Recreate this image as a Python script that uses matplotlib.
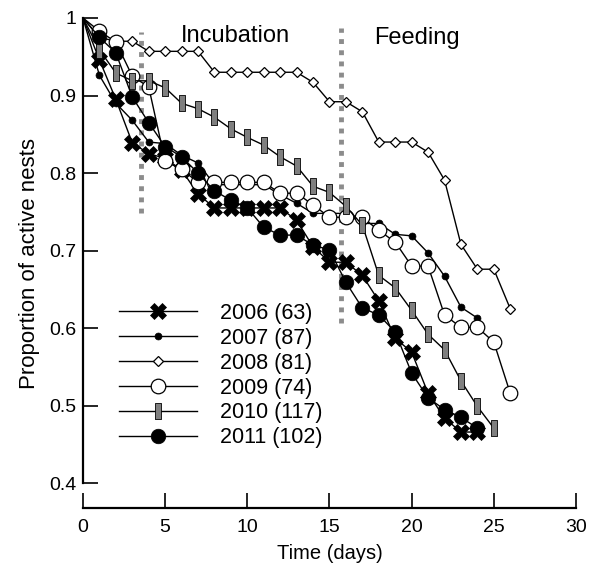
import matplotlib
matplotlib.use("Agg")
import matplotlib.pyplot as plt

plt.rcParams['font.family'] = ['Liberation Sans', 'DejaVu Sans']

# days
days = list(range(0, 27))

# proportion of active nests per year
y2006 = [1.0, 0.946, 0.895, 0.839, 0.825, 0.819, 0.804, 0.773, 0.755, 0.755,
         0.755, 0.755, 0.755, 0.739, 0.705, 0.685, 0.685, 0.668, 0.635, 0.587,
         0.569, 0.516, 0.484, 0.466, 0.466]
y2007 = [1.0, 0.926, 0.890, 0.868, 0.840, 0.838, 0.823, 0.813, 0.785, 0.785,
         0.785, 0.785, 0.772, 0.761, 0.748, 0.748, 0.748, 0.735, 0.735, 0.721,
         0.719, 0.697, 0.667, 0.627, 0.613]
y2008 = [1.0, 0.975, 0.970, 0.970, 0.957, 0.957, 0.957, 0.957, 0.930, 0.930,
         0.930, 0.930, 0.930, 0.930, 0.917, 0.892, 0.892, 0.879, 0.840, 0.840,
         0.840, 0.827, 0.791, 0.708, 0.676, 0.676, 0.625]
y2009 = [1.0, 0.983, 0.969, 0.925, 0.911, 0.815, 0.805, 0.788, 0.788, 0.788,
         0.788, 0.788, 0.774, 0.774, 0.759, 0.743, 0.743, 0.743, 0.726, 0.711,
         0.680, 0.680, 0.617, 0.601, 0.601, 0.582, 0.516]
y2010 = [1.0, 0.959, 0.929, 0.919, 0.919, 0.910, 0.890, 0.883, 0.872, 0.857,
         0.846, 0.836, 0.821, 0.809, 0.783, 0.775, 0.757, 0.733, 0.668, 0.652,
         0.623, 0.592, 0.572, 0.532, 0.499, 0.471]
y2011 = [1.0, 0.975, 0.955, 0.898, 0.865, 0.834, 0.821, 0.800, 0.777, 0.765,
         0.755, 0.730, 0.720, 0.720, 0.707, 0.701, 0.659, 0.626, 0.617, 0.595,
         0.542, 0.510, 0.495, 0.485, 0.471]

labels = ['2006 (63)', '2007 (87)', '2008 (81)', '2009 (74)', '2010 (117)', '2011 (102)']

# tall rectangle marker for 2010
rect = [(-0.45, -1), (0.45, -1), (0.45, 1), (-0.45, 1), (-0.45, -1)]

styles = [
    dict(marker='X', ms=11.5, mfc='black', mec='black', mew=0.5),
    dict(marker='o', ms=5, mfc='black', mec='black', mew=0.5),
    dict(marker='D', ms=5.5, mfc='white', mec='black', mew=0.9),
    dict(marker='o', ms=10.5, mfc='white', mec='black', mew=0.9),
    dict(marker=rect, ms=11, mfc='#7f7f7f', mec='black', mew=0.6),
    dict(marker='o', ms=10.5, mfc='black', mec='black', mew=0.5),
]

fig = plt.figure(figsize=(5.89, 5.71), dpi=100)
ax = fig.add_axes([0.1409, 0.1103, 0.8370, 0.8582])

series = [y2006, y2007, y2008, y2009, y2010, y2011]
for ys, lab, st in zip(series, labels, styles):
    # no marker at the common start point (day 0)
    ax.plot(days[:len(ys)], ys, color='black', lw=1.0, label=lab,
            clip_on=False, zorder=3, markevery=list(range(1, len(ys))), **st)

# stage separators
ax.plot([3.5, 3.5], [0.748, 0.982], color='#8c8c8c', lw=3.5,
        linestyle=(0, (1.0, 1.3)), zorder=1)
ax.plot([15.7, 15.7], [0.606, 0.987], color='#8c8c8c', lw=3.5,
        linestyle=(0, (1.0, 1.3)), zorder=1)

ax.text(9.3, 0.977, 'Incubation', ha='center', va='center', fontsize=17)
ax.text(20.3, 0.974, 'Feeding', ha='center', va='center', fontsize=17)

ax.set_xlim(0, 30)
ax.set_ylim(0.368, 1.0)
ax.set_xticks([0, 5, 10, 15, 20, 25, 30])
ax.set_yticks([0.4, 0.5, 0.6, 0.7, 0.8, 0.9, 1.0])
ax.set_yticklabels(['0.4', '0.5', '0.6', '0.7', '0.8', '0.9', '1'])

ax.spines['top'].set_visible(False)
ax.spines['right'].set_visible(False)
ax.spines['left'].set_bounds(0.4, 1.0)
ax.spines['left'].set_linewidth(1.6)
ax.spines['bottom'].set_linewidth(1.6)
ax.tick_params(axis='both', direction='in', labelsize=14, width=1.2, length=11, pad=5)
ax.tick_params(axis='x', pad=8)

ax.set_xlabel('Time (days)', fontsize=14.5, labelpad=6)
ax.set_ylabel('Proportion of active nests', fontsize=16, labelpad=6)

ax.legend(loc='upper left', bbox_to_anchor=(0.056, 0.436), frameon=False,
          fontsize=15.5, handlelength=3.6, handletextpad=1.1, labelspacing=0.18,
          borderaxespad=0)

plt.savefig('out.png', dpi=100)
plt.close()
